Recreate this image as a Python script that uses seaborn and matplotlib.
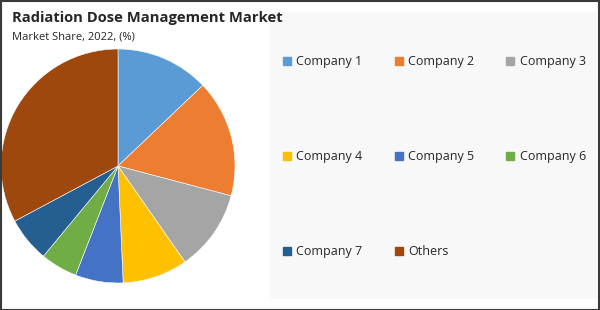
import matplotlib
matplotlib.use("Agg")
import matplotlib.pyplot as plt
import seaborn as sns
from matplotlib.patches import Rectangle
from matplotlib.lines import Line2D

categories = ["Company 1", "Company 2", "Company 3", "Company 4",
              "Company 5", "Company 6", "Company 7", "Others"]
shares = [12.9, 16.2, 11.2, 9.0, 6.6, 5.1, 6.2, 32.8]
colors = ["#5B9BD5", "#ED7D31", "#A5A5A5", "#FFC000",
          "#4472C4", "#70AD47", "#255E91", "#9E480E"]
title = "Radiation Dose Management Market"
subtitle = "Market Share, 2022, (%)"

sns.set_theme(style="white")
plt.rcParams['font.family'] = ['Open Sans', 'DejaVu Sans']

W, H = 600, 310
fig = plt.figure(figsize=(6, 3.1), dpi=100)
fig.patch.set_facecolor("white")

# legend background panel
fig.patches.append(Rectangle((269 / W, 1 - 299 / H), (597 - 269) / W, (299 - 12) / H,
                             transform=fig.transFigure, facecolor="#F8F8F8",
                             edgecolor="none", zorder=0))

cx, cy, r = 118, 166, 117
ax = fig.add_axes([(cx - r) / W, 1 - (cy + r) / H, 2 * r / W, 2 * r / H])
ax.pie(shares, colors=colors, startangle=90, counterclock=False,
       wedgeprops=dict(edgecolor="white", linewidth=0.4))
ax.set_xlim(-1, 1)
ax.set_ylim(-1, 1)
ax.set_aspect("equal")
ax.axis("off")

fig.text(12 / W, 1 - 18 / H, title, fontsize=10.6, fontweight="bold",
         color="#262626", va="center", ha="left")
fig.text(12 / W, 1 - 37 / H, subtitle, fontsize=8, color="#262626",
         va="center", ha="left")

ncol = 3
handles = [Line2D([0], [0], marker="s", linestyle="none", markersize=6,
                  markerfacecolor=c, markeredgecolor=c) for c in colors]
# reorder so that the legend fills row by row
order = [i for c in range(ncol) for i in range(c, len(categories), ncol)]
leg = fig.legend([handles[i] for i in order], [categories[i] for i in order],
                 ncol=ncol, loc="upper left",
                 bbox_to_anchor=(276 / W, 1 - 49 / H), frameon=False,
                 fontsize=9, labelspacing=6.55, columnspacing=2.55,
                 handlelength=0.7, handletextpad=0.4, borderpad=0)
for t in leg.get_texts():
    t.set_color("#262626")

fig.patches.append(Rectangle((0.5 / W, 0.5 / H), (W - 1.5) / W, (H - 1.5) / H,
                             transform=fig.transFigure, facecolor="none",
                             edgecolor="#3a3a3a", linewidth=1.5, zorder=10))

fig.savefig("out.png", dpi=100)
